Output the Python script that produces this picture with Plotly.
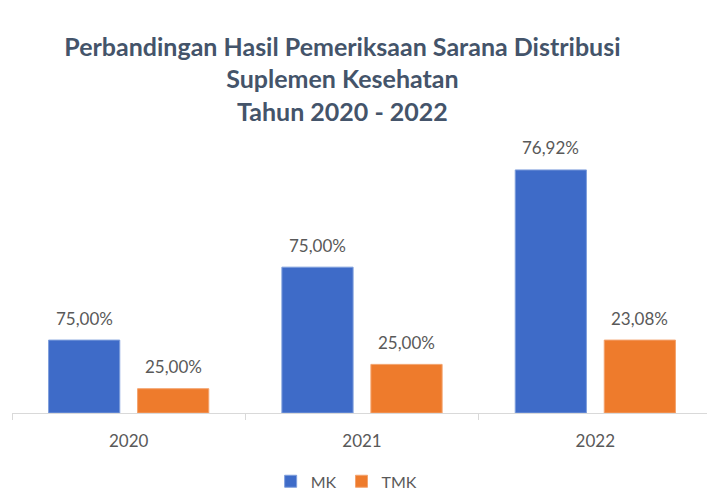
import plotly.graph_objects as go

years = ["2020", "2021", "2022"]
mk_counts = [3, 6, 10]
tmk_counts = [1, 2, 3]
mk_labels = ["75,00%", "75,00%", "76,92%"]
tmk_labels = ["25,00%", "25,00%", "23,08%"]

title_text = "Perbandingan Hasil Pemeriksaan Sarana Distribusi<br>Suplemen Kesehatan<br>Tahun 2020 - 2022"

BLUE = "#3E6BC8"
ORANGE = "#EE7B2C"
TXT = "#595959"
FONT = "Lato"

fig = go.Figure()
fig.add_trace(go.Bar(name="MK", x=years, y=mk_counts, marker=dict(color=BLUE, line=dict(color="#7F9FDC", width=1))))
fig.add_trace(go.Bar(name="TMK", x=years, y=tmk_counts, marker=dict(color=ORANGE, line=dict(color="#F3A36E", width=1))))

annotations = []
for i, (v, lab) in enumerate(zip(mk_counts, mk_labels)):
    annotations.append(dict(x=i, y=v, text=lab, xref="x", yref="y", showarrow=False,
                            xshift=-44.5, yshift=22, yanchor="middle",
                            font=dict(size=17, color=TXT, family=FONT)))
for i, (v, lab) in enumerate(zip(tmk_counts, tmk_labels)):
    annotations.append(dict(x=i, y=v, text=lab, xref="x", yref="y", showarrow=False,
                            xshift=44.5, yshift=22, yanchor="middle",
                            font=dict(size=17, color=TXT, family=FONT)))

fig.update_layout(
    width=707, height=485,
    margin=dict(l=4, r=3, t=72, b=80, autoexpand=False),
    paper_bgcolor="white", plot_bgcolor="white",
    barmode="group", bargap=0.237, bargroupgap=0.2,
    title=dict(text="<b>" + title_text + "</b>", xref="container", yref="container",
               x=0.473, xanchor="center", y=0.9014, yanchor="top",
               font=dict(family=FONT, size=25, color="#44546A")),
    font=dict(family=FONT, color=TXT),
    showlegend=True,
    legend=dict(orientation="h", xref="container", yref="container", x=0.479, xanchor="center",
                y=0.024, yanchor="middle", itemwidth=30,
                font=dict(size=16, color=TXT, family=FONT), traceorder="normal"),
    annotations=annotations,
    xaxis=dict(type="category", range=[-0.5, 2.5], showline=True, linecolor="#D9D9D9", linewidth=1,
               ticks="outside", tickson="boundaries", ticklen=6, tickcolor="#D9D9D9",
               ticklabelstandoff=13, automargin=False,
               tickfont=dict(size=17, color=TXT, family=FONT), showgrid=False),
    yaxis=dict(range=[0, 13.7], visible=False, showgrid=False, zeroline=False),
)

fig.write_html("out.html")
